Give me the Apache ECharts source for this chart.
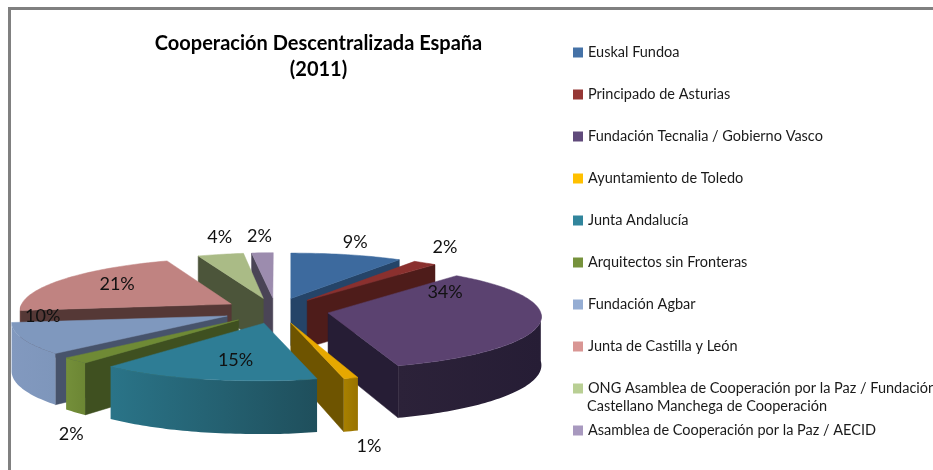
<!DOCTYPE html>
<html><head><meta charset="utf-8">
<style>html,body{margin:0;padding:0;background:#fff}#c{width:933px;height:470px}</style>
<script src="https://cdn.jsdelivr.net/npm/echarts@6/dist/echarts.min.js"></script></head>
<body><div id="c"></div>
<script>
const categories=["Euskal Fundoa","Principado de Asturias","Fundación Tecnalia / Gobierno Vasco","Ayuntamiento de Toledo","Junta Andalucía","Arquitectos sin Fronteras","Fundación Agbar","Junta de Castilla y León","ONG Asamblea de Cooperación por la Paz / Fundación\nCastellano Manchega de Cooperación","Asamblea de Cooperación por la Paz / AECID"];
const values=[9,2,34,1,15,2,10,21,4,2];
const legendColors=["#4572A7","#953735","#604A7B","#FFC000","#31859C","#76923C","#95ADD3","#D99694","#B9CF94","#A899BF"];
const topColors=["#3D6A9E","#8A302E","#5B4270","#E6A800","#2E7D95","#6F8A35","#7F98BE","#C08381","#AABB86","#9C8CAE"];
const cutColors=["#254468","#4E1C1A","#261D35","#6E5400","#1F4F5C","#3F5020","#47536B","#553836","#4C553A","#4A4456"];
const wallColors=[["#2A4A70","#254468"],["#5A2220","#4E1C1A"],["#2C2239","#261D35"],["#A88000","#987300"],["#2A7488","#1F4F5C"],["#748F3A","#6C8634"],["#8299BF","#7E96BB"],["#6E4644","#553836"],["#5A6444","#4C553A"],["#5A5268","#4A4456"]];
const labelOffsets=[[6,-13],[20,-16],[-95,-30],[18,68],[30,-19],[-4,74],[20,-23],[55,4],[-2,-17],[-3,-17]];
const G={cx:276,cy:310.5,R:212,k:0.24,p:0.08,h:48,e:0.25,D:-65};
const total=values.reduce((a,b)=>a+b,0);
let acc=0;
const slices=values.map((v,i)=>{const a0=acc/total*2*Math.PI;acc+=v;const a1=acc/total*2*Math.PI;return{i,v,a0,a1,mid:(a0+a1)/2};});
function proj(u,v,z){const s=1/(1-G.p*v);return[G.cx+G.R*u*s+(s-1)*G.D*Math.min(1,Math.abs(u)/0.3),G.cy+G.R*G.k*v*s+G.h*z*s];}
function pt(sl,r,a,z){const ux=G.e*Math.sin(sl.mid)+r*Math.sin(a),vy=-G.e*Math.cos(sl.mid)-r*Math.cos(a);return proj(ux,vy,z);}
function arc(sl,a0,a1,z){const n=Math.max(2,Math.ceil((a1-a0)/0.02));const o=[];for(let j=0;j<=n;j++)o.push(pt(sl,1,a0+(a1-a0)*j/n,z));return o;}
function poly(points,fill){return{type:'polygon',shape:{points},style:{fill,stroke:typeof fill==='string'?fill:'none',lineWidth:0.5}};}
function cut(sl,a,color){return poly([pt(sl,0,a,0),pt(sl,1,a,0),pt(sl,1,a,1),pt(sl,0,a,1)],color);}
function renderSlice(sl){
  const ch=[],i=sl.i;
  if(Math.sin(sl.a0)<0)ch.push(cut(sl,sl.a0,cutColors[i]));
  if(Math.sin(sl.a1)>0)ch.push(cut(sl,sl.a1,cutColors[i]));
  const wa0=Math.max(sl.a0,Math.PI/2),wa1=Math.min(sl.a1,Math.PI*1.5);
  if(wa1>wa0){
    const t=arc(sl,wa0,wa1,0),b=arc(sl,wa0,wa1,1).reverse();
    ch.push(poly(t.concat(b),{type:'linear',x:0,y:0,x2:1,y2:0,colorStops:[{offset:0,color:wallColors[i][0]},{offset:1,color:wallColors[i][1]}]}));
  }
  ch.push(poly([pt(sl,0,sl.a0,0)].concat(arc(sl,sl.a0,sl.a1,0)),topColors[i]));
  return{type:'group',children:ch};
}
const order=slices.slice().sort((a,b)=>Math.cos(b.mid)-Math.cos(a.mid));
const FONT='Lato';
const series=order.map(sl=>({type:'custom',name:categories[sl.i],coordinateSystem:'none',silent:true,itemStyle:{color:legendColors[sl.i]},data:[values[sl.i]],renderItem:()=>renderSlice(sl)}));
series.push({type:'custom',name:'etiquetas',coordinateSystem:'none',silent:true,z:10,data:values,renderItem:(params,api)=>{
  const sl=slices[params.dataIndex],o=pt(sl,1,sl.mid,0),off=labelOffsets[sl.i];
  return{type:'text',x:o[0]+off[0],y:o[1]+off[1],style:{text:api.value(0)+'%',font:'18px '+FONT,fill:'#111',textAlign:'center',textVerticalAlign:'middle'}};
}});
const chart=echarts.init(document.getElementById('c'),null,{renderer:'canvas'});
chart.setOption({
  animation:false,backgroundColor:'#fff',
  title:{text:'Cooperación Descentralizada España\n(2011)',left:313.5,top:26,textAlign:'center',textStyle:{fontFamily:FONT,fontSize:20,fontWeight:'bold',color:'#000',lineHeight:26}},
  legend:{orient:'vertical',left:568,top:40,itemWidth:10,itemHeight:10,itemGap:27,icon:'rect',selectedMode:false,align:'left',
    data:categories,formatter:n=>n.split('\n')[0],textStyle:{fontFamily:FONT,fontSize:14.5,color:'#1a1a1a'}},
  graphic:[
    {type:'polyline',z:100,silent:true,shape:{points:[[9.5,470],[9.5,8.5],[933,8.5]]},style:{stroke:'#808080',lineWidth:3,fill:'none'}},
    {type:'text',z:100,silent:true,left:587,top:399,style:{text:categories[8].split('\n')[1],font:'14.5px '+FONT,fill:'#1a1a1a'}}
  ],
  series
});
</script></body></html>
